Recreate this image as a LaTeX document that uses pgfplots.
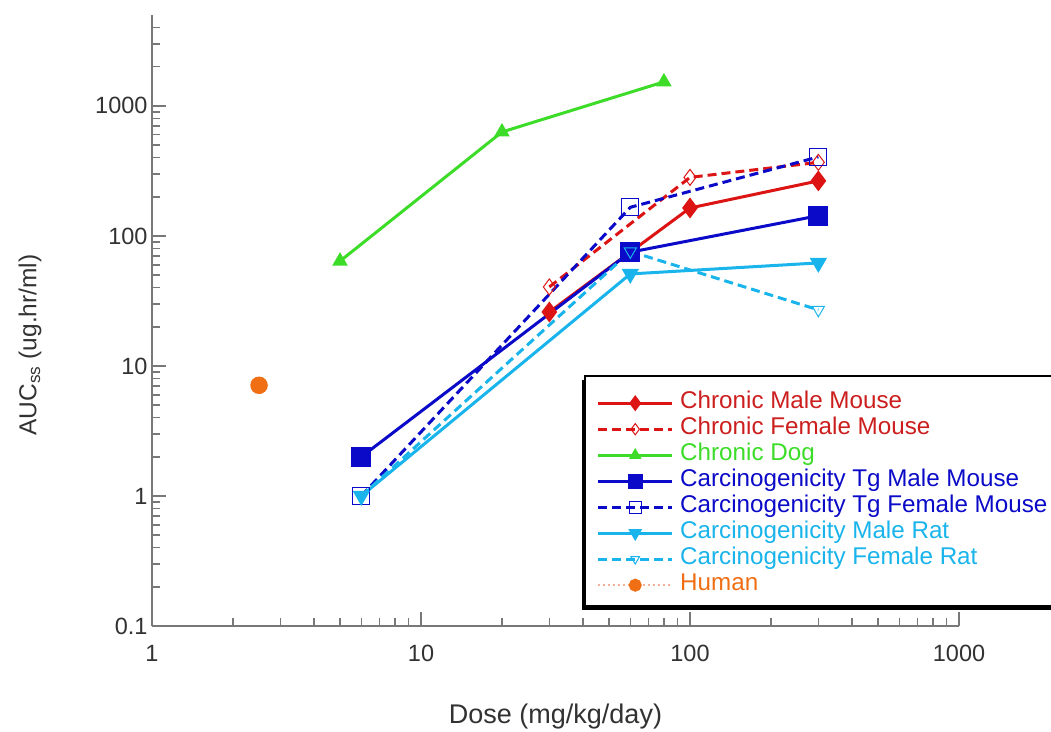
\documentclass[border=0pt]{standalone}
\usepackage{fontspec}
\setmainfont{Liberation Sans}
\usepackage{pgfplots}
\pgfplotsset{compat=1.18}
\definecolor{cred}{RGB}{220,20,20}
\definecolor{tred}{RGB}{205,30,30}
\definecolor{cgreen}{RGB}{60,220,40}
\definecolor{cblue}{RGB}{10,10,200}
\definecolor{ccyan}{RGB}{25,180,235}
\definecolor{corange}{RGB}{240,110,20}
\definecolor{csalmon}{RGB}{240,175,150}
\definecolor{axisgray}{RGB}{120,120,120}
\definecolor{labelgray}{RGB}{50,50,50}
\begin{document}
\begin{tikzpicture}
\begin{axis}[
  at={(0,0)}, anchor=south west,
  scale only axis, width=807pt, height=611pt,
  xmode=log, ymode=log,
  xmin=1, xmax=1000, ymin=0.1, ymax=5000,
  clip=false,
  axis lines*=left,
  axis line style={draw=axisgray, line width=1.8pt},
  xtick={1,10,100,1000}, xticklabels={1,10,100,1000},
  ytick={0.1,1,10,100,1000}, yticklabels={0.1,1,10,100,1000},
  minor xtick={2,3,4,5,6,7,8,9,20,30,40,50,60,70,80,90,200,300,400,500,600,700,800,900},
  minor ytick={0.2,0.3,0.4,0.5,0.6,0.7,0.8,0.9,2,3,4,5,6,7,8,9,20,30,40,50,60,70,80,90,200,300,400,500,600,700,800,900,2000,3000,4000},
  tick align=inside,
  major tick length=14pt, minor tick length=8pt,
  every tick/.style={draw=axisgray, line width=1.5pt},
  ticklabel style={font=\fontsize{23.5}{25}\selectfont, text=labelgray},
  xticklabel style={yshift=-16pt},
  yticklabel style={xshift=-1pt},
  /pgf/number format/assume math mode=true,
  xlabel={Dose (mg/kg/day)},
  ylabel={AUC\textsubscript{ss} (ug.hr/ml)},
  every axis x label/.style={at={(axis description cs:0.5,0)}, yshift=-91pt, anchor=center, font=\fontsize{27}{29}\selectfont, text=labelgray},
  every axis y label/.style={at={(axis description cs:0,0.46)}, xshift=-122pt, rotate=90, anchor=center, font=\fontsize{24.5}{26}\selectfont, text=labelgray},
  legend image code/.code={\draw[mark repeat=2,mark phase=2,#1,every mark/.append style={scale=0.7}] plot coordinates {(0pt,0pt) (37pt,0pt) (74pt,0pt)};},
  legend style={at={(0.5366,0.4092)}, anchor=north west, draw=none, fill=none,
    font=\fontsize{24.2}{26}\selectfont, row sep=0pt, inner xsep=11.5pt, inner ysep=14pt,
    nodes={text height=17pt, text depth=6pt, inner sep=1.5pt},
    /tikz/every odd column/.append style={column sep=5pt}},
  legend cell align=left,
]
\addplot[cred, line width=3pt, mark=diamond*, mark size=8pt, mark options={solid, fill=cred}, legend image post style={line width=3pt}]
  coordinates {(30,26) (100,164) (300,265)};
\addlegendentry{\textcolor{tred}{Chronic Male Mouse}}
\addplot[cred, line width=3pt, dash pattern=on 9pt off 5pt, mark=diamond, mark size=8pt, mark options={solid, line width=1pt}, legend image post style={line width=3pt}]
  coordinates {(30,40.5) (100,282) (300,368)};
\addlegendentry{\textcolor{tred}{Chronic Female Mouse}}
\addplot[cgreen, line width=3pt, mark=triangle*, mark size=6pt, mark options={solid, fill=cgreen}, legend image post style={line width=3pt}]
  coordinates {(5,64) (20,630) (80,1530)};
\addlegendentry{\textcolor{cgreen}{Chronic Dog}}
\addplot[cblue, line width=3pt, mark=square*, mark size=8.5pt, mark options={solid, fill=cblue}, legend image post style={line width=3pt}]
  coordinates {(6,2) (60,75) (300,143)};
\addlegendentry{\textcolor{cblue}{Carcinogenicity Tg Male Mouse}}
\addplot[cblue, line width=3pt, dash pattern=on 9pt off 5pt, mark=square, mark size=8.5pt, mark options={solid, line width=1pt}, legend image post style={line width=3pt}]
  coordinates {(6,1) (60,166) (300,405)};
\addlegendentry{\textcolor{cblue}{Carcinogenicity Tg Female Mouse}}
\addplot[ccyan, line width=3pt, mark=triangle*, mark size=7pt, mark options={solid, fill=ccyan, rotate=180}, legend image post style={line width=3pt}]
  coordinates {(6,1) (60,51) (300,62)};
\addlegendentry{\textcolor{ccyan}{Carcinogenicity Male Rat}}
\addplot[ccyan, line width=3pt, dash pattern=on 9pt off 5pt, mark=triangle, mark size=7pt, mark options={solid, rotate=180, line width=1pt}, legend image post style={line width=3pt}]
  coordinates {(6,1) (60,76) (300,27)};
\addlegendentry{\textcolor{ccyan}{Carcinogenicity Female Rat}}
\addplot[csalmon, line width=1.5pt, dash pattern=on 2pt off 3pt, mark=*, mark size=8pt, mark options={solid, draw=corange, fill=corange}, legend image post style={line width=1.8pt}]
  coordinates {(2.5,7.1)};
\addlegendentry{\textcolor{corange}{Human}}
\fill[black] ([xshift=-3pt,yshift=-4pt]rel axis cs:0.5366,0.0327) rectangle ([xshift=-3pt,yshift=-4pt]rel axis cs:1.2,0.4092);
\filldraw[fill=white, draw=black, line width=1.5pt] (rel axis cs:0.5366,0.0327) rectangle (rel axis cs:1.2,0.4092);
\end{axis}
\pgfresetboundingbox
\path[use as bounding box] (-152pt,-105pt) rectangle (899pt,626pt);
\end{tikzpicture}
\end{document}
